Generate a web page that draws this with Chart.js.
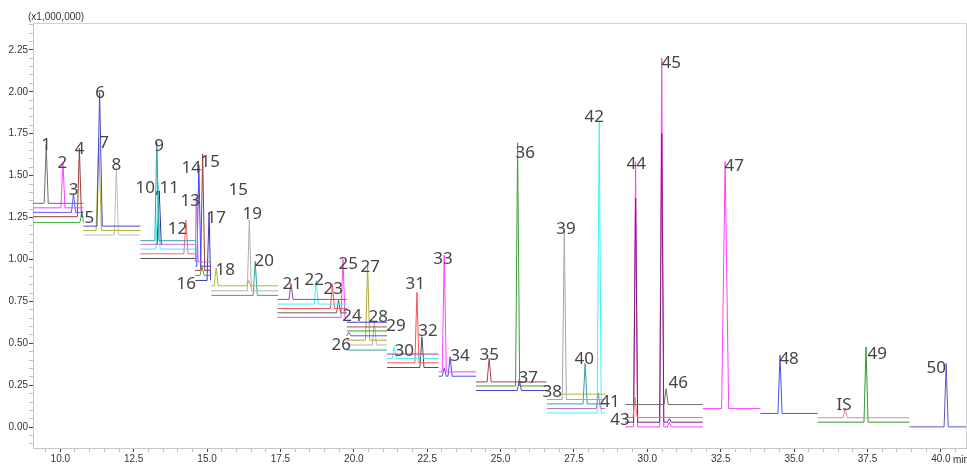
<!DOCTYPE html>
<html>
<head>
<meta charset="utf-8">
<script src="https://cdn.jsdelivr.net/npm/chart.js@4.4.1/dist/chart.umd.min.js"></script>
<style>
  body { margin: 0; background: #fff; }
  #wrap { width: 967px; height: 465px; }
</style>
</head>
<body>
<div id="wrap"><canvas id="chrom"></canvas></div>
<script>
// time windows (min) of each acquisition segment
const windows = [
  [9.07, 10.79], [10.79, 12.73], [12.73, 14.6], [14.6, 15.12], [15.15, 17.42],
  [17.4, 19.76], [19.76, 21.13], [21.13, 22.89], [22.89, 24.16], [24.16, 26.56],
  [26.58, 28.56], [27.0, 28.56], [29.25, 31.89], [31.89, 33.85], [33.85, 35.8],
  [35.8, 38.93], [38.93, 40.89], [13.22, 13.5]
];

// which window each trace belongs to, its baseline (x1,000,000) and its peaks [time, apex, halfWidth?]
const traceWindow = [
  0, 0, 0, 0, 0, 1, 1, 1, 2, 2, 2, 2, 2, 17, 3, 3, 3, 3, 3, 4, 4, 4,
  5, 5, 5, 5, 5, 6, 6, 6, 6, 6, 6, 6, 7, 7, 7, 7, 8, 8, 9, 9, 9,
  10, 10, 10, 10, 11, 12, 12, 12, 12, 13, 14, 15, 15, 16
];
const traceBase = [
  1.335, 1.308, 1.281, 1.255, 1.221, 1.199, 1.173, 1.146,
  1.112, 1.09, 1.062, 1.034, 1.006, 1.09,
  0.985, 0.96, 0.935, 0.905, 0.875,
  0.843, 0.813, 0.786,
  0.762, 0.734, 0.708, 0.682, 0.655,
  0.626, 0.598, 0.574, 0.545, 0.519, 0.49, 0.46,
  0.436, 0.41, 0.384, 0.356,
  0.33, 0.304,
  0.27, 0.246, 0.219,
  0.165, 0.139, 0.111, 0.085, 0.197,
  0.135, 0.058, 0.03, 0.002,
  0.111, 0.082, 0.056, 0.03, 0.002
];
const tracePeaks = [
  [[9.52, 1.68]], [[10.09, 1.58]], [[10.45, 1.394]], [[10.65, 1.663]], [[10.74, 1.29]],
  [[11.34, 1.995, 0.09]], [[11.31, 1.72, 0.09]], [[11.91, 1.54]],
  [[13.29, 1.70]], [], [[13.33, 1.457]], [[14.28, 1.235]], [], [[13.37, 1.41]],
  [[14.63, 1.37]], [[14.72, 1.563]], [[14.85, 1.63]], [[14.83, 0.956]], [[15.07, 1.28]],
  [[15.31, 0.95], [16.42, 0.875]], [[16.44, 1.235]], [[16.64, 0.99]],
  [[17.86, 0.857]], [[18.72, 0.877]], [[19.27, 0.853]], [[19.48, 0.758]], [[19.63, 1.0]],
  [], [], [], [[19.83, 0.565]], [[20.47, 0.967]], [[20.70, 0.628]], [],
  [], [[21.38, 0.483], [22.3, 0.44]], [[22.15, 0.804]], [[22.32, 0.539]],
  [[23.08, 1.026]], [[23.08, 0.354], [23.28, 0.42]],
  [[24.61, 0.41]], [[25.58, 1.696]], [[25.64, 0.285]],
  [[27.17, 1.17]], [[27.88, 0.38]], [[28.33, 0.205]], [[28.36, 1.82]], [],
  [[30.64, 0.23]], [[29.58, 0.18]], [[29.6, 1.365], [30.49, 1.752], [30.75, 0.05]],
  [[29.6, 1.583], [30.49, 2.2], [30.75, 0.03]],
  [[32.65, 1.583, 0.12]], [[34.52, 0.43]], [[36.74, 0.111]], [[37.45, 0.479]], [[40.18, 0.38]]
];

// peak labels: [text, time, level]
const peakLabels = [
  ['1', 9.52, 1.68], ['2', 10.07, 1.575], ['3', 10.45, 1.414], ['4', 10.66, 1.659],
  ['5', 10.99, 1.247], ['6', 11.36, 1.993], ['7', 11.49, 1.694], ['8', 11.91, 1.563],
  ['9', 13.37, 1.677], ['10,11', 13.30, 1.426], ['12', 13.99, 1.181], ['13', 14.43, 1.348],
  ['14', 14.46, 1.545], ['15', 15.11, 1.581], ['15', 16.06, 1.414], ['16', 14.29, 0.853],
  ['17', 15.31, 1.247], ['18', 15.62, 0.937], ['19', 16.54, 1.271], ['20', 16.95, 0.991],
  ['21', 17.90, 0.853], ['22', 18.65, 0.877], ['23', 19.30, 0.823], ['24', 19.94, 0.662],
  ['25', 19.81, 0.972], ['26', 19.57, 0.489], ['27', 20.56, 0.955], ['28', 20.83, 0.656],
  ['29', 21.44, 0.603], ['30', 21.72, 0.453], ['31', 22.09, 0.853], ['32', 22.53, 0.573],
  ['33', 23.04, 1.002], ['34', 23.62, 0.424], ['35', 24.61, 0.430], ['36', 25.84, 1.635],
  ['37', 25.94, 0.292], ['38', 26.76, 0.208], ['39', 27.23, 1.181], ['40', 27.85, 0.406],
  ['41', 28.73, 0.149], ['42', 28.19, 1.850], ['43', 29.07, 0.042], ['44', 29.62, 1.569],
  ['45', 30.81, 2.172], ['46', 31.05, 0.262], ['47', 32.96, 1.557], ['48', 34.83, 0.406],
  ['49', 37.83, 0.435], ['50', 39.84, 0.352], ['IS', 36.70, 0.131]
];

const traceColors = [
  '#6e6e6e', '#ff40ff', '#5a5aff', '#9e3a3a', '#3cb03c', '#4848c8', '#b4b432', '#bdbdbd',
  '#36a0a0', '#c878d8', '#40f0ff', '#ff6464', '#505050', '#2a2aa0',
  '#c070c0', '#4040ff', '#a03a3a', '#3cb03c', '#3a3ab0',
  '#b4b432', '#b0b0b0', '#36a0a0',
  '#a040a8', '#40f0ff', '#ff5050', '#606060', '#ff40ff',
  '#3c3cd0', '#a05050', '#3c9c3c', '#6060b0', '#b0a832', '#b0b0b0', '#36a0a0',
  '#a040a8', '#40f0ff', '#ff5050', '#505050',
  '#ff40ff', '#4a4aff',
  '#a04848', '#3c9c3c', '#4646c8',
  '#a8a8a8', '#36a0a0', '#b070c8', '#40f0ff', '#b4b432',
  '#707070', '#ff7070', '#7a2070', '#ff40ff',
  '#ff40ff', '#5050f0', '#d09090', '#2e9a2e', '#5a5ac0'
];

const PEAK_W = 0.07;

const datasets = traceBase.map((base, i) => {
  const [start, end] = windows[traceWindow[i]];
  const pts = [{ x: start, y: base }];
  tracePeaks[i].forEach(p => {
    const w = p[2] || PEAK_W;
    pts.push({ x: Math.max(start, p[0] - w), y: base });
    pts.push({ x: p[0], y: p[1] });
    pts.push({ x: Math.min(end, p[0] + w), y: base });
  });
  pts.push({ x: end, y: base });
  return {
    data: pts,
    borderColor: traceColors[i],
    borderWidth: 1,
    pointRadius: 0,
    fill: false,
    tension: 0
  };
});

const isMult = (v, step) => Math.abs(v / step - Math.round(v / step)) < 1e-6;

const labelPlugin = {
  id: 'labels',
  afterDatasetsDraw(chart) {
    const { ctx, scales: { x, y }, chartArea } = chart;
    ctx.save();
    // frame top and right
    ctx.strokeStyle = '#d2d2d2';
    ctx.lineWidth = 1;
    ctx.beginPath();
    ctx.moveTo(chartArea.left, chartArea.top + 0.5);
    ctx.lineTo(chartArea.right - 0.5, chartArea.top + 0.5);
    ctx.lineTo(chartArea.right - 0.5, chartArea.bottom);
    ctx.stroke();
    ctx.fillStyle = '#444';
    ctx.font = '17px "Noto Sans"';
    ctx.textAlign = 'center';
    ctx.textBaseline = 'middle';
    peakLabels.forEach(([t, px, py]) => {
      ctx.fillText(t, x.getPixelForValue(px), y.getPixelForValue(py));
    });
    ctx.fillStyle = '#333';
    ctx.font = '10px "Liberation Sans"';
    ctx.textAlign = 'left';
    ctx.fillText('(x1,000,000)', 28, 17);
    ctx.fillText('min', 953, 460);
    ctx.restore();
  }
};

new Chart(document.getElementById('chrom'), {
  type: 'line',
  data: { datasets },
  options: {
    responsive: true,
    maintainAspectRatio: false,
    animation: false,
    layout: { padding: { top: 23, right: 0 } },
    plugins: { legend: { display: false }, tooltip: { enabled: false } },
    scales: {
      x: {
        type: 'linear',
        min: 9.07,
        max: 40.89,
        afterFit: s => { s.height = 17; },
        border: { color: '#c8c8c8' },
        grid: {
          drawOnChartArea: false,
          tickLength: 4,
          tickColor: c => isMult(c.tick.value, 2.5) ? '#444' : '#c0c0c0'
        },
        ticks: {
          stepSize: 0.5,
          includeBounds: false,
          autoSkip: false,
          maxRotation: 0,
          padding: 1,
          color: '#333',
          font: { family: 'Liberation Sans', size: 10 },
          callback: v => isMult(v, 2.5) ? v.toFixed(1) : ''
        }
      },
      y: {
        min: -0.124,
        max: 2.41,
        afterFit: s => { s.width = 33; },
        border: { color: '#c8c8c8' },
        grid: {
          drawOnChartArea: false,
          tickLength: 4,
          tickColor: c => isMult(c.tick.value, 0.25) ? '#444' : '#c0c0c0'
        },
        ticks: {
          stepSize: 0.05,
          includeBounds: false,
          autoSkip: false,
          padding: 1,
          color: '#333',
          font: { family: 'Liberation Sans', size: 10 },
          callback: v => isMult(v, 0.25) ? v.toFixed(2) : ''
        }
      }
    }
  },
  plugins: [labelPlugin]
});
</script>
</body>
</html>
